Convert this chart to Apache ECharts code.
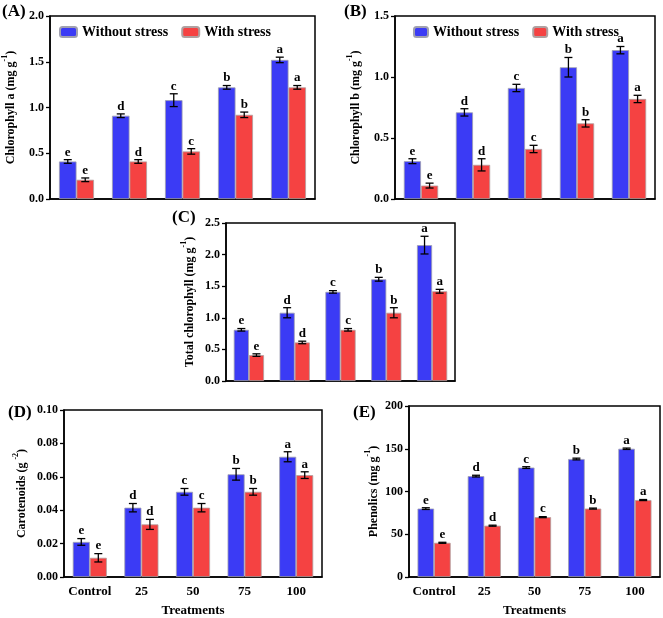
<!DOCTYPE html>
<html>
<head>
<meta charset="utf-8">
<script src="https://cdn.jsdelivr.net/npm/echarts@6/dist/echarts.min.js"></script>
<style>
html,body{margin:0;padding:0;background:#fff;}
#chart{width:663px;height:618px;}
</style>
</head>
<body>
<div id="chart"></div>
<script>
// ---------- data ----------
const categories = ['Control', '25', '50', '75', '100'];
const lettersWithout = ['e', 'd', 'c', 'b', 'a'];
const lettersWith = ['e', 'd', 'c', 'b', 'a'];

const chlA_without = [0.41, 0.91, 1.08, 1.22, 1.52];
const chlA_without_err = [0.02, 0.02, 0.07, 0.02, 0.03];
const chlA_with = [0.21, 0.41, 0.52, 0.92, 1.22];
const chlA_with_err = [0.02, 0.02, 0.03, 0.03, 0.02];

const chlB_without = [0.31, 0.71, 0.91, 1.08, 1.22];
const chlB_without_err = [0.02, 0.03, 0.03, 0.08, 0.03];
const chlB_with = [0.11, 0.28, 0.41, 0.62, 0.82];
const chlB_with_err = [0.02, 0.05, 0.03, 0.03, 0.03];

const total_without = [0.81, 1.08, 1.41, 1.61, 2.15];
const total_without_err = [0.02, 0.08, 0.02, 0.03, 0.14];
const total_with = [0.41, 0.61, 0.81, 1.08, 1.42];
const total_with_err = [0.02, 0.02, 0.02, 0.08, 0.03];

const car_without = [0.021, 0.0415, 0.051, 0.0615, 0.072];
const car_without_err = [0.002, 0.0025, 0.002, 0.0035, 0.003];
const car_with = [0.0115, 0.0315, 0.0415, 0.051, 0.061];
const car_with_err = [0.0025, 0.003, 0.0025, 0.002, 0.002];

const phen_without = [80, 118, 128, 138, 150];
const phen_without_err = [1, 1, 1, 1, 0.8];
const phen_with = [40, 60, 70, 80, 90];
const phen_with_err = [0.6, 0.6, 0.6, 0.6, 0.6];

// ---------- styling ----------
const FONT = '"Liberation Serif", "Times New Roman", serif';
const BLUE = '#3b3bf5';
const RED = '#f54242';
const CAT_GAP = 0.34;

const panels = [
  {id: 'A', grid: {left: 50, top: 16, width: 265, height: 183}, max: 2.0, interval: 0.5, dec: 1,
   name: ['Chlorophyll a (mg g', '-1', ')'], nameGap: 33, xl: false,
   w: chlA_without, we: chlA_without_err, s: chlA_with, se: chlA_with_err},
  {id: 'B', grid: {left: 395, top: 16, width: 260, height: 183}, max: 1.5, interval: 0.5, dec: 1,
   name: ['Chlorophyll b (mg g', '-1', ')'], nameGap: 33, xl: false,
   w: chlB_without, we: chlB_without_err, s: chlB_with, se: chlB_with_err},
  {id: 'C', grid: {left: 226, top: 223, width: 229, height: 158}, max: 2.5, interval: 0.5, dec: 1,
   name: ['Total chlorophyll (mg g', '-1', ')'], nameGap: 30, xl: false,
   w: total_without, we: total_without_err, s: total_with, se: total_with_err},
  {id: 'D', grid: {left: 64, top: 410, width: 258, height: 169}, max: 0.10, interval: 0.02, dec: 2,
   name: ['Carotenoids (g ', '-2', ')'], nameGap: 36, xl: true,
   w: car_without, we: car_without_err, s: car_with, se: car_with_err},
  {id: 'E', grid: {left: 409, top: 406, width: 251, height: 173}, max: 200, interval: 50, dec: 0,
   name: ['Phenolics (mg g', '-1', ')'], nameGap: 29, xl: true,
   w: phen_without, we: phen_without_err, s: phen_with, se: phen_with_err}
];

const grids = [], xAxes = [], yAxes = [], series = [], graphics = [];

function errSeries(i, vals, errs, letters, side) {
  return {
    type: 'custom', xAxisIndex: i, yAxisIndex: i, z: 5, silent: true,
    data: vals.map((v, k) => [k, v, errs[k], letters[k]]),
    encode: {x: 0, y: 1},
    renderItem: function (params, api) {
      const k = api.value(0), v = api.value(1), e = api.value(2);
      const band = api.size([1, 0])[0];
      const bw = band * (1 - CAT_GAP) / 2;
      const c = api.coord([k, v]);
      const x = c[0] + side * bw / 2;
      const top = api.coord([k, v + e])[1];
      const bot = api.coord([k, v - e])[1];
      const cap = 4;
      const st = {stroke: '#000', lineWidth: 1.3};
      return {type: 'group', children: [
        {type: 'line', shape: {x1: x, y1: top, x2: x, y2: bot}, style: st},
        {type: 'line', shape: {x1: x - cap, y1: top, x2: x + cap, y2: top}, style: st},
        {type: 'line', shape: {x1: x - cap, y1: bot, x2: x + cap, y2: bot}, style: st},
        {type: 'text', style: {text: letters[k], x: x, y: top - 1, align: 'center', verticalAlign: 'bottom',
          font: 'bold 13px ' + FONT, fill: '#000'}}
      ]};
    }
  };
}

panels.forEach((p, i) => {
  grids.push(Object.assign({show: true, borderColor: '#000', borderWidth: 1.5, backgroundColor: 'transparent'}, p.grid));
  xAxes.push({
    type: 'category', gridIndex: i, data: categories,
    axisLine: {lineStyle: {color: '#000', width: 1.5}},
    axisTick: {alignWithLabel: true, length: 5, lineStyle: {color: '#000', width: 1.3}},
    axisLabel: {show: p.xl, interval: 0, color: '#000', fontFamily: FONT, fontWeight: 'bold', fontSize: 13, margin: 8},
    name: p.xl ? 'Treatments' : '', nameLocation: 'middle', nameGap: 27,
    nameTextStyle: {color: '#000', fontFamily: FONT, fontWeight: 'bold', fontSize: 13}
  });
  yAxes.push({
    type: 'value', gridIndex: i, min: 0, max: p.max, interval: p.interval,
    splitLine: {show: false},
    axisLine: {show: true, lineStyle: {color: '#000', width: 1.5}},
    axisTick: {show: true, length: 4, lineStyle: {color: '#000', width: 1.3}},
    axisLabel: {color: '#000', fontFamily: FONT, fontWeight: 'bold', fontSize: 12, margin: 6,
      formatter: v => v.toFixed(p.dec)},
    name: '{n|' + p.name[0] + '}{s|' + p.name[1] + '}{n|' + p.name[2] + '}',
    nameLocation: 'middle', nameRotate: 90, nameGap: p.nameGap,
    nameTextStyle: {color: '#000', fontFamily: FONT, fontWeight: 'bold', fontSize: 12,
      rich: {
        n: {fontFamily: FONT, fontWeight: 'bold', fontSize: 12, color: '#000', lineHeight: 16, verticalAlign: 'bottom'},
        s: {fontFamily: FONT, fontWeight: 'bold', fontSize: 8, color: '#000', lineHeight: 16, verticalAlign: 'top'}
      }}
  });
  const barCommon = {type: 'bar', xAxisIndex: i, yAxisIndex: i, barGap: '0%', barCategoryGap: (CAT_GAP * 100) + '%'};
  series.push(Object.assign({name: 'Without stress', data: p.w,
    itemStyle: {color: BLUE, borderColor: '#a0a0b0', borderWidth: 0.8}}, barCommon));
  series.push(Object.assign({name: 'With stress', data: p.s,
    itemStyle: {color: RED, borderColor: '#b0a0a0', borderWidth: 0.8}}, barCommon));
  series.push(errSeries(i, p.w, p.we, lettersWithout, -1));
  series.push(errSeries(i, p.s, p.se, lettersWith, 1));
});

const labelPos = {A: [2, 3], B: [344, 3], C: [172, 209], D: [8, 404], E: [353, 404]};
Object.keys(labelPos).forEach(k => {
  graphics.push({type: 'text', left: labelPos[k][0], top: labelPos[k][1],
    style: {text: '(' + k + ')', font: 'bold 17px ' + FONT, fill: '#000'}});
});

const legendCommon = {
  data: ['Without stress', 'With stress'], itemHeight: 10, itemGap: 13, padding: 0,
  textStyle: {color: '#000', fontFamily: FONT, fontWeight: 'bold', fontSize: 14},
  selectedMode: false
};

const option = {
  animation: false,
  grid: grids, xAxis: xAxes, yAxis: yAxes, series: series,
  legend: [
    Object.assign({left: 59, top: 25, itemWidth: 17}, legendCommon),
    Object.assign({left: 413, top: 25, itemWidth: 14}, legendCommon)
  ],
  graphic: graphics
};

const chart = echarts.init(document.getElementById('chart'), null, {renderer: 'canvas'});
chart.setOption(option);
</script>
</body>
</html>
